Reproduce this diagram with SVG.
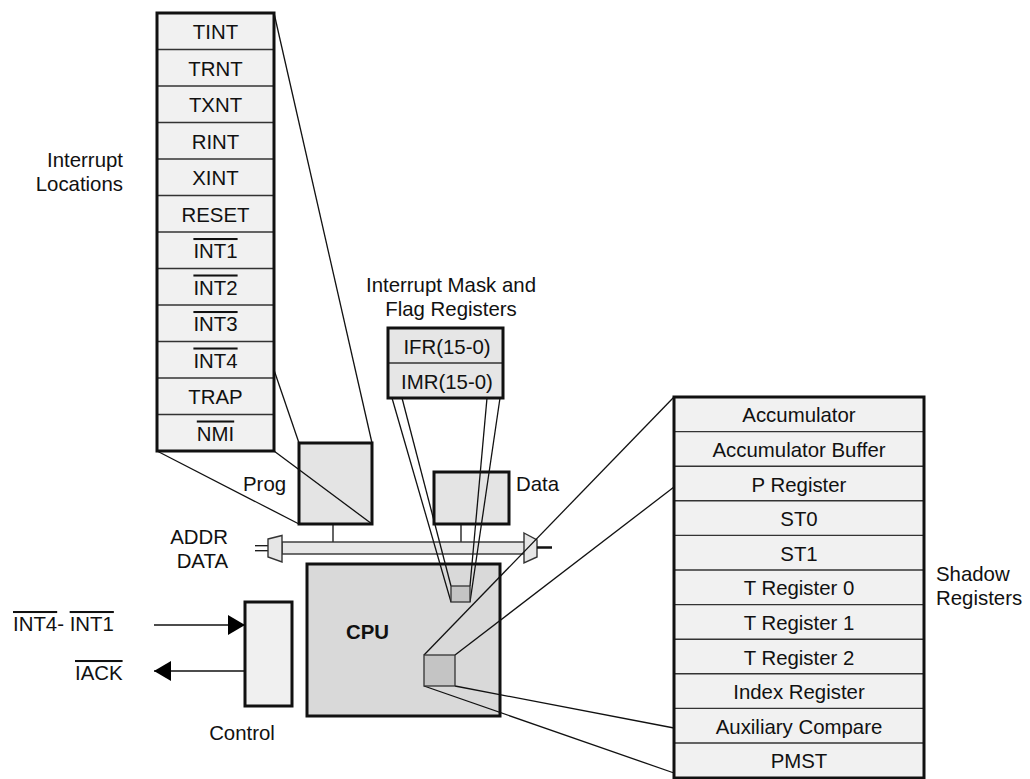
<svg xmlns="http://www.w3.org/2000/svg" width="1030" height="779" viewBox="0 0 1030 779">
<style>
text{font-family:"Liberation Sans",Arial,Helvetica,sans-serif;font-size:20.4px;fill:#111}
.c{text-anchor:middle}
.e{text-anchor:end}
.ov{text-decoration:overline}
.col{fill:#f1f1f1;stroke:none}
.frame{fill:none;stroke:#111;stroke-width:3}
.sep{stroke:#333;stroke-width:1.4}
.box{stroke:#111;stroke-width:3}
.ln{stroke:#111;stroke-width:1.3;fill:none}
.small{fill:#c4c4c4;stroke:#333;stroke-width:1.3}
</style>
<defs>
<marker id="ah" viewBox="0 0 17 20" refX="17" refY="10" markerWidth="17" markerHeight="20" markerUnits="userSpaceOnUse" orient="auto">
<path d="M0,0 L17,10 L0,20 Z" fill="#000"/>
</marker>
</defs>

<g id="interrupt-locations">
<rect class="col" x="157" y="13" width="117" height="438"/>
<g class="sep">
<line x1="157" y1="49.5" x2="274" y2="49.5"/>
<line x1="157" y1="86" x2="274" y2="86"/>
<line x1="157" y1="122.5" x2="274" y2="122.5"/>
<line x1="157" y1="159" x2="274" y2="159"/>
<line x1="157" y1="195.5" x2="274" y2="195.5"/>
<line x1="157" y1="232" x2="274" y2="232"/>
<line x1="157" y1="268.5" x2="274" y2="268.5"/>
<line x1="157" y1="305" x2="274" y2="305"/>
<line x1="157" y1="341.5" x2="274" y2="341.5"/>
<line x1="157" y1="378" x2="274" y2="378"/>
<line x1="157" y1="414.5" x2="274" y2="414.5"/>
</g>
<rect class="frame" x="157" y="13" width="117" height="438"/>
<text class="c" x="215.5" y="39">TINT</text>
<text class="c" x="215.5" y="75.5">TRNT</text>
<text class="c" x="215.5" y="112">TXNT</text>
<text class="c" x="215.5" y="148.5">RINT</text>
<text class="c" x="215.5" y="185">XINT</text>
<text class="c" x="215.5" y="221.5">RESET</text>
<text class="c" x="215.5" y="258"><tspan class="ov">INT1</tspan></text>
<text class="c" x="215.5" y="294.5"><tspan class="ov">INT2</tspan></text>
<text class="c" x="215.5" y="331"><tspan class="ov">INT3</tspan></text>
<text class="c" x="215.5" y="367.5"><tspan class="ov">INT4</tspan></text>
<text class="c" x="215.5" y="404">TRAP</text>
<text class="c" x="215.5" y="440.5"><tspan class="ov">NMI</tspan></text>
</g>

<g id="interrupt-locations-label">
<text class="e" x="123" y="167">Interrupt</text>
<text class="e" x="123" y="191">Locations</text>
</g>

<g id="mask-flag-label">
<text class="c" x="451" y="292">Interrupt Mask and</text>
<text class="c" x="451" y="316">Flag Registers</text>
</g>

<g id="prog">
<rect class="box" x="299" y="443" width="73" height="81" fill="#e4e4e4"/>
<text x="243" y="491">Prog</text>
</g>

<g id="data">
<rect class="box" x="434" y="472" width="75" height="52" fill="#e4e4e4"/>
<text x="516" y="491">Data</text>
</g>

<g id="bus">
<line class="ln" x1="255" y1="545.7" x2="268" y2="545.7"/>
<line class="ln" x1="255" y1="550.7" x2="268" y2="550.7"/>
<line class="ln" x1="333" y1="524" x2="333" y2="542"/>
<line class="ln" x1="461" y1="524" x2="461" y2="542"/>
<rect x="282" y="542" width="243" height="12" fill="#e6e6e6" stroke="#333" stroke-width="1.4"/>
<polygon points="268,539 282,535.5 282,562 268,557" fill="#e6e6e6" stroke="#333" stroke-width="1.4"/>
<polygon points="524,533 537,540 537,557 524,563" fill="#e6e6e6" stroke="#333" stroke-width="1.4"/>
<line x1="537" y1="547.5" x2="552" y2="547.5" stroke="#111" stroke-width="2.5"/>
<text class="e" x="228" y="544">ADDR</text>
<text class="e" x="228" y="568">DATA</text>
</g>

<g id="ifr-imr">
<rect x="388" y="328" width="115" height="70" fill="#e6e6e6"/>
<line class="sep" x1="388" y1="363" x2="503" y2="363"/>
<rect class="frame" x="388" y="328" width="115" height="70"/>
<text class="c" x="447" y="354">IFR(15-0)</text>
<text class="c" x="447" y="389">IMR(15-0)</text>
</g>

<g id="cpu">
<rect class="box" x="307" y="564" width="193" height="152" fill="#d9d9d9"/>
<text x="346" y="639" font-weight="bold">CPU</text>
</g>

<g id="control">
<rect class="box" x="245" y="602" width="47" height="104" fill="#f0f0f0"/>
<text class="c" x="242" y="740">Control</text>
</g>

<g id="signals">
<text x="13" y="631"><tspan class="ov">INT4</tspan>- <tspan class="ov">INT1</tspan></text>
<text x="75" y="680"><tspan class="ov">IACK</tspan></text>
</g>

<g id="shadow-registers">
<rect class="col" x="674" y="397" width="250" height="381"/>
<g class="sep">
<line x1="674" y1="431.6" x2="924" y2="431.6"/>
<line x1="674" y1="466.2" x2="924" y2="466.2"/>
<line x1="674" y1="500.8" x2="924" y2="500.8"/>
<line x1="674" y1="535.4" x2="924" y2="535.4"/>
<line x1="674" y1="570" x2="924" y2="570"/>
<line x1="674" y1="604.6" x2="924" y2="604.6"/>
<line x1="674" y1="639.2" x2="924" y2="639.2"/>
<line x1="674" y1="673.8" x2="924" y2="673.8"/>
<line x1="674" y1="708.4" x2="924" y2="708.4"/>
<line x1="674" y1="743" x2="924" y2="743"/>
</g>
<rect class="frame" x="674" y="397" width="250" height="381"/>
<text class="c" x="799" y="422.3">Accumulator</text>
<text class="c" x="799" y="456.9">Accumulator Buffer</text>
<text class="c" x="799" y="491.5">P Register</text>
<text class="c" x="799" y="526.1">ST0</text>
<text class="c" x="799" y="560.7">ST1</text>
<text class="c" x="799" y="595.3">T Register 0</text>
<text class="c" x="799" y="629.9">T Register 1</text>
<text class="c" x="799" y="664.5">T Register 2</text>
<text class="c" x="799" y="699.1">Index Register</text>
<text class="c" x="799" y="733.7">Auxiliary Compare</text>
<text class="c" x="799" y="768.3">PMST</text>
</g>

<g id="shadow-label">
<text x="936" y="581">Shadow</text>
<text x="936" y="605">Registers</text>
</g>

<g id="connectors">
<line class="ln" x1="274" y1="13" x2="372" y2="443"/>
<line class="ln" x1="274" y1="370" x2="299" y2="443"/>
<line class="ln" x1="157" y1="451" x2="299" y2="524"/>
<line class="ln" x1="274" y1="451" x2="372" y2="524"/>
<line class="ln" x1="392" y1="398" x2="451" y2="602"/>
<line class="ln" x1="402" y1="398" x2="451" y2="586"/>
<line class="ln" x1="487" y1="398" x2="470" y2="586"/>
<line class="ln" x1="500" y1="398" x2="470" y2="602"/>
<line class="ln" x1="424" y1="655" x2="674" y2="397"/>
<line class="ln" x1="455" y1="655" x2="674" y2="487"/>
<line class="ln" x1="455" y1="686" x2="674" y2="728"/>
<line class="ln" x1="424" y1="686" x2="674" y2="773"/>
<line class="ln" x1="154" y1="625" x2="245" y2="625" marker-end="url(#ah)"/>
<line class="ln" x1="245" y1="671" x2="154" y2="671" marker-end="url(#ah)"/>
</g>

<g id="ifr-target">
<rect class="small" x="451" y="586" width="19" height="16"/>
</g>
<g id="shadow-source">
<rect class="small" x="424" y="655" width="31" height="31"/>
</g>
</svg>
